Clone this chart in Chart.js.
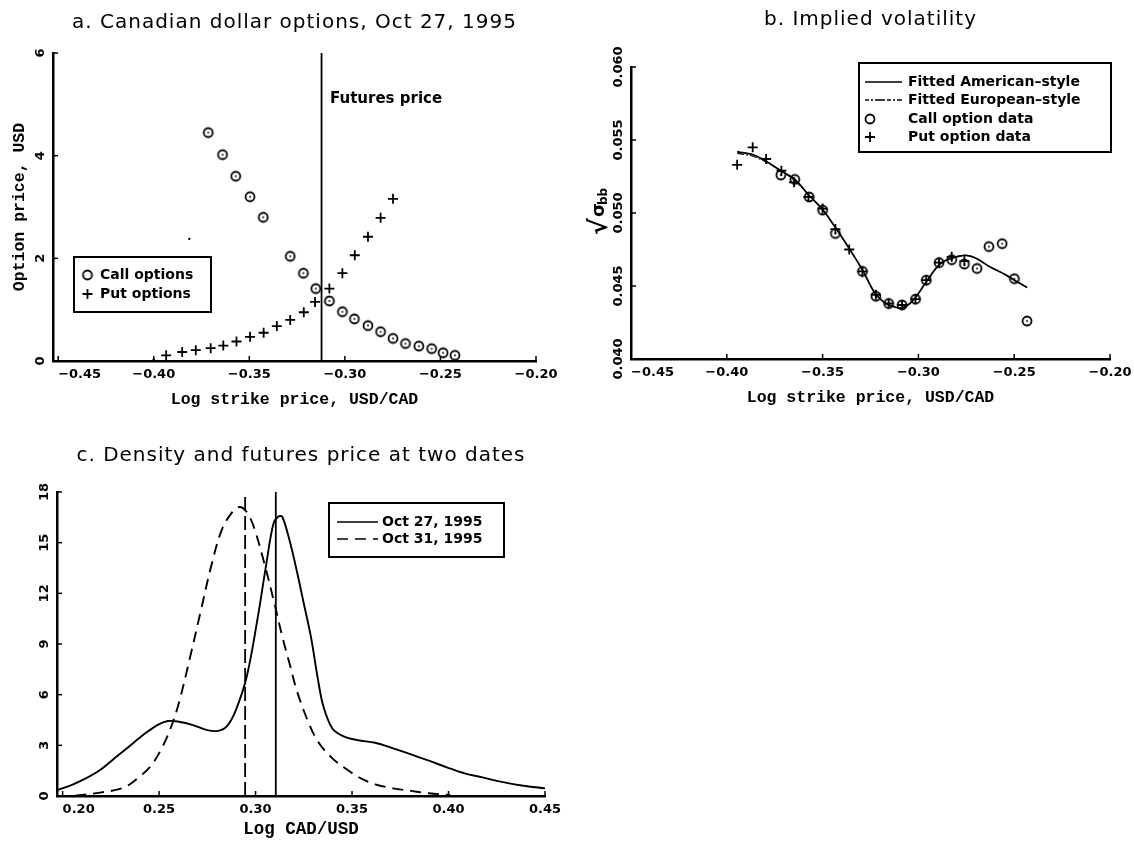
<!DOCTYPE html>
<html><head><meta charset="utf-8">
<script src="https://cdn.jsdelivr.net/npm/chart.js@4.4.1/dist/chart.umd.min.js"></script>
<style>
html,body{margin:0;padding:0;background:#fff;}
body{width:1134px;height:842px;position:relative;overflow:hidden;}
canvas{position:absolute;}
</style></head><body>
<canvas id="ca" width="567" height="420" style="left:0;top:0"></canvas>
<canvas id="cb" width="567" height="420" style="left:567px;top:0"></canvas>
<canvas id="cc" width="567" height="422" style="left:0;top:420px"></canvas>
<script>
// ---------- Panel a: option prices ----------
const aCallX = [-0.3715,-0.3640,-0.3571,-0.3496,-0.3427,-0.3286,-0.3217,-0.3152,-0.3081,-0.3013,-0.2950,-0.2879,-0.2813,-0.2748,-0.2683,-0.2613,-0.2546,-0.2486,-0.2424];
const aCallY = [4.45,4.02,3.60,3.20,2.80,2.04,1.71,1.41,1.17,0.96,0.82,0.69,0.57,0.44,0.34,0.29,0.24,0.16,0.11];
const aPutX = [-0.3935,-0.3851,-0.3780,-0.3702,-0.3636,-0.3567,-0.3496,-0.3425,-0.3356,-0.3286,-0.3215,-0.3156,-0.3081,-0.3013,-0.2948,-0.2879,-0.2813,-0.2748];
const aPutY = [0.11,0.175,0.21,0.25,0.30,0.38,0.47,0.55,0.68,0.80,0.95,1.15,1.41,1.71,2.06,2.42,2.79,3.16];
const aSpeckX = [-0.4000,-0.3814];
const aSpeckY = [0.03,2.38];
const aFuturesX = -0.3122;
const aXRange = [-0.4527,-0.20];
const aYRange = [0,6];
const aXTicks = [-0.45,-0.40,-0.35,-0.30,-0.25,-0.20];
const aYTicks = [0,2,4,6];

// ---------- Panel b: implied volatility ----------
const bCallX = [-0.3718,-0.3645,-0.3570,-0.3500,-0.3433,-0.3292,-0.3222,-0.3155,-0.3085,-0.3015,-0.2959,-0.2892,-0.2826,-0.2760,-0.2694,-0.2632,-0.2563,-0.2499,-0.2433];
const bCallY = [0.0526,0.0523,0.0511,0.0502,0.0486,0.0460,0.0443,0.0438,0.0437,0.0441,0.0454,0.0466,0.0468,0.0465,0.0462,0.0477,0.0479,0.0455,0.0426];
const bPutX = [-0.3946,-0.3865,-0.3795,-0.3715,-0.3649,-0.3574,-0.3500,-0.3433,-0.3361,-0.3292,-0.3222,-0.3155,-0.3085,-0.3015,-0.2959,-0.2892,-0.2826,-0.2760];
const bPutY = [0.0533,0.0545,0.0537,0.0529,0.0521,0.0511,0.0503,0.0489,0.0475,0.0460,0.0444,0.0438,0.0437,0.0441,0.0454,0.0466,0.0470,0.0467];
const bFitX = [-0.3946,-0.3846,-0.3718,-0.3645,-0.3570,-0.3498,-0.3433,-0.3358,-0.3292,-0.3226,-0.3170,-0.3132,-0.3085,-0.3029,-0.2963,-0.2888,-0.2826,-0.2756,-0.2700,-0.2625,-0.2550,-0.2499,-0.2433];
const bAmericanY = [0.0542,0.0539,0.0529,0.0523,0.0512,0.0502,0.0490,0.0475,0.0461,0.0445,0.0438,0.0436,0.0435,0.0440,0.0452,0.0465,0.0469,0.0471,0.0469,0.0463,0.0458,0.0454,0.0449];
const bEuropeanY = [0.0541,0.0538,0.0529,0.0522,0.0512,0.0502,0.0490,0.0475,0.0461,0.0445,0.0438,0.0436,0.0435,0.0440,0.0452,0.0465,0.0469,0.0471,0.0469,0.0463,0.0458,0.0454,0.0449];
const bXRange = [-0.45,-0.20];
const bYRange = [0.040,0.060];
const bXTicks = [-0.45,-0.40,-0.35,-0.30,-0.25,-0.20];
const bYTicks = [0.040,0.045,0.050,0.055,0.060];

// ---------- Panel c: densities ----------
const cX27 = [0.1972,0.2046,0.2120,0.2194,0.2269,0.2343,0.2417,0.2491,0.2546,0.2602,0.2676,0.2750,0.2806,0.2852,0.2898,0.2954,0.3009,0.3056,0.3093,0.3120,0.3139,0.3176,0.3213,0.3250,0.3287,0.3324,0.3352,0.3398,0.3454,0.3528,0.3620,0.3713,0.3806,0.3898,0.3991,0.4083,0.4176,0.4269,0.4361,0.4500];
const cY27 = [0.35,0.65,1.04,1.54,2.23,2.92,3.61,4.20,4.44,4.40,4.20,3.90,3.86,4.14,5.09,7.06,10.41,13.76,16.13,16.56,16.52,15.14,13.37,11.40,9.42,6.86,5.28,4.00,3.55,3.31,3.15,2.82,2.46,2.09,1.70,1.34,1.10,0.85,0.65,0.45];
const cX31 = [0.1972,0.2046,0.2102,0.2194,0.2287,0.2343,0.2398,0.2454,0.2509,0.2556,0.2602,0.2657,0.2713,0.2769,0.2824,0.2880,0.2917,0.2954,0.2991,0.3046,0.3102,0.3139,0.3176,0.3213,0.3269,0.3324,0.3398,0.3472,0.3546,0.3620,0.3713,0.3806,0.3898,0.4009];
const cY31 = [0.00,0.01,0.06,0.20,0.39,0.65,1.14,1.73,2.72,3.90,5.48,8.04,10.80,13.56,15.73,16.82,17.11,16.82,15.93,13.76,11.20,9.42,7.85,6.27,4.50,3.21,2.23,1.58,1.04,0.69,0.45,0.30,0.16,0.06];
const cFutures27 = 0.3105;
const cFutures31 = 0.2946;
const cXRange = [0.1971,0.45];
const cYRange = [0,18];
const cXTicks = [0.20,0.25,0.30,0.35,0.40,0.45];
const cYTicks = [0,3,6,9,12,15,18];

// ---------- helpers ----------
const FONT_TICK = 'bold 13px "DejaVu Sans"';
const FONT_AXIS = 'bold 16.5px "Liberation Mono"';
const FONT_TITLE = '20px "DejaVu Sans"';
const FONT_LEG = 'bold 14px "DejaVu Sans"';
const zip = (xs, ys) => xs.map((x, i) => ({x, y: ys[i]}));
const vline = (x, r) => [{x, y: r[0]}, {x, y: r[1]}];
const fmtSigned = v => (v < 0 ? '\u2212' : '') + Math.abs(v).toFixed(2);

function ringImg(dot) {
  const c = document.createElement('canvas');
  c.width = c.height = 14;
  const g = c.getContext('2d');
  g.strokeStyle = '#000'; g.lineWidth = 1.8;
  g.beginPath(); g.arc(7, 7, 4.5, 0, Math.PI * 2); g.stroke();
  if (dot) { g.fillStyle = '#000'; g.beginPath(); g.arc(7, 7, 0.9, 0, Math.PI * 2); g.fill(); }
  return c;
}
const RING = ringImg(true);
const RING_PLAIN = ringImg(false);

function txt(ctx, s, x, y, font, align, base, rot, ls) {
  ctx.save();
  ctx.translate(x, y);
  if (rot) ctx.rotate(rot);
  ctx.font = font; ctx.fillStyle = '#000';
  ctx.textAlign = align || 'center'; ctx.textBaseline = base || 'middle';
  try { ctx.letterSpacing = ls || '0px'; } catch (e) {}
  ctx.fillText(s, 0, 0);
  ctx.restore();
}
function drawRing(ctx, x, y, img) { ctx.drawImage(img || RING, x - 7, y - 7); }
function drawPlus(ctx, x, y) {
  ctx.save(); ctx.strokeStyle = '#000'; ctx.lineWidth = 1.8;
  ctx.beginPath(); ctx.moveTo(x - 5, y); ctx.lineTo(x + 5, y); ctx.moveTo(x, y - 5); ctx.lineTo(x, y + 5); ctx.stroke();
  ctx.restore();
}
function drawSeg(ctx, x1, x2, y, dash) {
  ctx.save(); ctx.strokeStyle = '#000'; ctx.lineWidth = 1.7; ctx.setLineDash(dash || []);
  ctx.beginPath(); ctx.moveTo(x1, y); ctx.lineTo(x2, y); ctx.stroke(); ctx.restore();
}
function box(ctx, x, y, w, h) {
  ctx.save(); ctx.strokeStyle = '#000'; ctx.lineWidth = 2; ctx.fillStyle = '#fff';
  ctx.fillRect(x, y, w, h); ctx.strokeRect(x, y, w, h); ctx.restore();
}

function deco(spec) {
  return {
    id: 'deco',
    afterDraw(chart) {
      const ctx = chart.ctx, ca = chart.chartArea, xs = chart.scales.x, ys = chart.scales.y;
      ctx.save();
      ctx.strokeStyle = '#000'; ctx.lineWidth = 1.5;
      spec.xTicks.forEach(v => { const p = xs.getPixelForValue(v); ctx.beginPath(); ctx.moveTo(p, ca.bottom); ctx.lineTo(p, ca.bottom - 5); ctx.stroke(); });
      spec.yTicks.forEach(v => { const p = ys.getPixelForValue(v); ctx.beginPath(); ctx.moveTo(ca.left, p); ctx.lineTo(ca.left + 5, p); ctx.stroke(); });
      spec.xTicks.forEach((v, i) => txt(ctx, spec.xFmt(v), xs.getPixelForValue(v), ca.bottom + 14, FONT_TICK, i === 0 ? 'left' : 'center', 'middle'));
      spec.yTicks.forEach(v => txt(ctx, spec.yFmt(v), ca.left - 12, ys.getPixelForValue(v), FONT_TICK, 'center', 'middle', -Math.PI / 2));
      txt(ctx, spec.xTitle, (ca.left + ca.right) / 2, ca.bottom + spec.xTitleDy, spec.xTitleFont, 'center', 'alphabetic');
      txt(ctx, spec.title, (ca.left + ca.right) / 2, spec.titleY, FONT_TITLE, 'center', 'middle', 0, '1px');
      if (spec.extra) spec.extra(ctx, ca, xs, ys);
      ctx.restore();
    }
  };
}

function axisOpts(range) {
  return {
    type: 'linear', min: range[0], max: range[1],
    ticks: {display: false},
    grid: {display: false, drawTicks: false},
    border: {display: true, color: '#000', width: 2.5}
  };
}
function baseOptions(range_x, range_y, pad) {
  return {
    responsive: false, animation: false, devicePixelRatio: 1,
    layout: {padding: pad},
    plugins: {legend: {display: false}, tooltip: {enabled: false}},
    scales: {x: axisOpts(range_x), y: axisOpts(range_y)}
  };
}

// ---------- Chart a ----------
new Chart(document.getElementById('ca'), {
  type: 'scatter',
  data: {datasets: [
    {label: 'Futures price', data: vline(aFuturesX, aYRange), showLine: true, borderColor: '#000', borderWidth: 1.8, pointRadius: 0},
    {label: 'Call options', data: zip(aCallX, aCallY), pointStyle: RING, pointRadius: 5},
    {label: 'Put options', data: zip(aPutX, aPutY), pointStyle: 'cross', pointRadius: 5, borderColor: '#000', borderWidth: 1.8},
    {label: 'specks', data: zip(aSpeckX, aSpeckY), pointStyle: 'circle', pointRadius: 1.2, backgroundColor: '#000', borderWidth: 0}
  ]},
  options: baseOptions(aXRange, aYRange, {left: 53, right: 31, top: 53, bottom: 59}),
  plugins: [deco({
    xTicks: aXTicks, yTicks: aYTicks, xFmt: fmtSigned, yFmt: v => String(v),
    xTitle: 'Log strike price, USD/CAD', xTitleFont: FONT_AXIS, xTitleDy: 43,
    title: 'a. Canadian dollar options, Oct 27, 1995', titleY: 23,
    extra(ctx, ca) {
      txt(ctx, 'Option price, USD', 20, (ca.top + ca.bottom) / 2, FONT_AXIS, 'center', 'middle', -Math.PI / 2);
      txt(ctx, 'Futures price', 330, 99, 'bold 15px "DejaVu Sans"', 'left', 'middle');
      box(ctx, 74, 257, 137, 55);
      drawRing(ctx, 87.5, 275, RING_PLAIN); txt(ctx, 'Call options', 100, 275, FONT_LEG, 'left', 'middle');
      drawPlus(ctx, 87.5, 294); txt(ctx, 'Put options', 100, 294, FONT_LEG, 'left', 'middle');
    }
  })]
});

// ---------- Chart b ----------
new Chart(document.getElementById('cb'), {
  type: 'scatter',
  data: {datasets: [
    {label: 'Fitted American-style', data: zip(bFitX, bAmericanY), showLine: true, tension: 0.4, borderColor: '#000', borderWidth: 1.7, pointRadius: 0},
    {label: 'Fitted European-style', data: zip(bFitX, bEuropeanY), showLine: true, tension: 0.4, borderColor: '#000', borderWidth: 1.1, borderDash: [7, 2, 2, 2], pointRadius: 0},
    {label: 'Call option data', data: zip(bCallX, bCallY), pointStyle: RING, pointRadius: 5},
    {label: 'Put option data', data: zip(bPutX, bPutY), pointStyle: 'cross', pointRadius: 5, borderColor: '#000', borderWidth: 1.8}
  ]},
  options: baseOptions(bXRange, bYRange, {left: 64, right: 24, top: 67, bottom: 61}),
  plugins: [deco({
    xTicks: bXTicks, yTicks: bYTicks, xFmt: fmtSigned, yFmt: v => v.toFixed(3),
    xTitle: 'Log strike price, USD/CAD', xTitleFont: FONT_AXIS, xTitleDy: 43,
    title: 'b. Implied volatility', titleY: 20,
    extra(ctx, ca) {
      ctx.save();
      ctx.translate(31, (ca.top + ca.bottom) / 2 - 2);
      ctx.rotate(-Math.PI / 2);
      ctx.fillStyle = '#000'; ctx.textBaseline = 'alphabetic'; ctx.textAlign = 'left';
      ctx.font = 'bold 25px "DejaVu Sans"'; ctx.fillText('\u221A', -24, 9);
      ctx.font = 'bold 18px "DejaVu Sans"'; ctx.fillText('\u03C3', -6, 6);
      ctx.font = 'bold 12px "DejaVu Sans"'; ctx.fillText('bb', 6, 9);
      ctx.restore();
      box(ctx, 292, 63, 252, 89);
      drawSeg(ctx, 298, 335, 82, []);
      txt(ctx, 'Fitted American\u2013style', 341, 82, FONT_LEG, 'left', 'middle');
      drawSeg(ctx, 298, 335, 100, [4, 2, 2, 2, 10, 2]);
      txt(ctx, 'Fitted European\u2013style', 341, 100, FONT_LEG, 'left', 'middle');
      drawRing(ctx, 303, 119, RING_PLAIN); txt(ctx, 'Call option data', 341, 119, FONT_LEG, 'left', 'middle');
      drawPlus(ctx, 303, 137); txt(ctx, 'Put option data', 341, 137, FONT_LEG, 'left', 'middle');
    }
  })]
});

// ---------- Chart c ----------
new Chart(document.getElementById('cc'), {
  type: 'scatter',
  data: {datasets: [
    {label: 'Oct 27, 1995', data: zip(cX27, cY27), showLine: true, tension: 0.35, borderColor: '#000', borderWidth: 1.9, pointRadius: 0},
    {label: 'Oct 31, 1995', data: zip(cX31, cY31), showLine: true, tension: 0.35, borderColor: '#000', borderWidth: 1.9, borderDash: [11, 7], pointRadius: 0},
    {label: 'Futures Oct 27', data: vline(cFutures27, cYRange), showLine: true, borderColor: '#000', borderWidth: 1.8, pointRadius: 0},
    {label: 'Futures Oct 31', data: vline(cFutures31, cYRange), showLine: true, borderColor: '#000', borderWidth: 1.8, borderDash: [14, 5], pointRadius: 0}
  ]},
  options: baseOptions(cXRange, cYRange, {left: 57, right: 22, top: 72, bottom: 46}),
  plugins: [deco({
    xTicks: cXTicks, yTicks: cYTicks, xFmt: fmtSigned, yFmt: v => String(v),
    xTitle: 'Log CAD/USD', xTitleFont: 'bold 17.5px "Liberation Mono"', xTitleDy: 38,
    title: 'c. Density and futures price at two dates', titleY: 36,
    extra(ctx) {
      box(ctx, 329, 83, 175, 54);
      drawSeg(ctx, 337, 378, 102, []);
      txt(ctx, 'Oct 27, 1995', 382, 102, FONT_LEG, 'left', 'middle');
      drawSeg(ctx, 337, 378, 119, [11, 7]);
      txt(ctx, 'Oct 31, 1995', 382, 119, FONT_LEG, 'left', 'middle');
    }
  })]
});
</script>
</body></html>
